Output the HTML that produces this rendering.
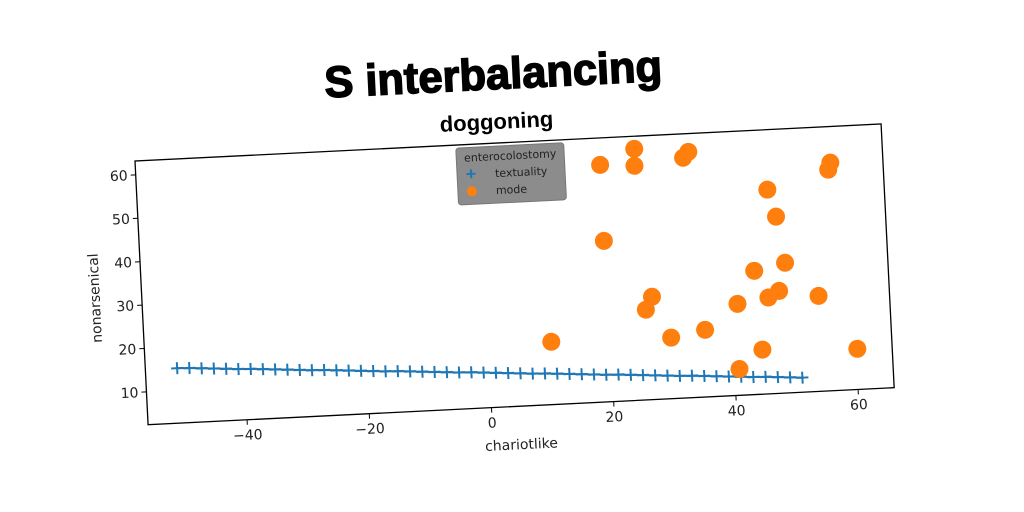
<!DOCTYPE html>
<html><head><meta charset="utf-8"><style>
html,body{margin:0;padding:0;background:#fff;width:1024px;height:512px;overflow:hidden}
svg{display:block}
text{font-family:"DejaVu Sans","Liberation Sans",sans-serif;fill:#222}
</style></head><body>
<svg id="chart" width="1024" height="512" xmlns="http://www.w3.org/2000/svg">
<g id="root" transform="translate(135,161) rotate(-2.84)">
  <text x="362" y="-54" text-anchor="middle" textLength="338" lengthAdjust="spacingAndGlyphs" style="font-family:'Liberation Sans',sans-serif;font-weight:bold;font-size:44px;fill:#000;stroke:#000;stroke-width:1.5">S interbalancing</text>
  <text x="363" y="-14" text-anchor="middle" style="font-family:'Liberation Sans',sans-serif;font-weight:bold;font-size:22px;fill:#000">doggoning</text>
  <rect x="0" y="0" width="747" height="264" fill="none" stroke="#000" stroke-width="1.3"/>
  <g id="xticks"></g><g id="yticks"></g>
  <g id="series"></g>
  <text x="372" y="307" text-anchor="middle" font-size="14">chariotlike</text>
  <text transform="translate(-42,135) rotate(-90)" text-anchor="middle" font-size="14">nonarsenical</text>
  <g>
    <rect x="321" y="3" width="108" height="57" rx="3" fill="#8c8c8c" stroke="#777"/>
    <text x="375" y="17" text-anchor="middle" font-size="11">enterocolostomy</text>
    <path d="M335 25 v9 M330.5 29.5 h9" stroke="#1f77b4" stroke-width="2"/>
    <text x="359" y="34" font-size="11">textuality</text>
    <circle cx="335" cy="47" r="5" fill="#ff7f0e"/>
    <text x="359" y="51" font-size="11">mode</text>
  </g>
</g>
</svg>
<script>
const xTicks=[-40,-20,0,20,40,60];
const yTicks=[10,20,30,40,50,60];
const blueX=[-51,-49,-47,-45,-43,-41,-39,-37,-35,-33,-31,-29,-27,-25,-23,-21,-19,-17,-15,-13,-11,-9,-7,-5,-3,-1,1,3,5,7,9,11,13,15,17,19,21,23,25,27,29,31,33,35,37,39,41,43,45,47,49,51];
const blueY=[15.1,15.0,14.8,14.6,14.4,14.2,14.1,13.9,13.7,13.5,13.3,13.1,13.0,12.8,12.6,12.4,12.2,12.0,11.9,11.7,11.5,11.3,11.1,10.9,10.8,10.6,10.4,10.2,10.0,9.8,9.7,9.5,9.3,9.1,8.9,8.7,8.6,8.4,8.2,8.0,7.8,7.6,7.5,7.3,7.1,6.9,6.7,6.5,6.4,6.2,6.0,5.8];
const orangeX=[19.7,25.4,25.3,34.2,33.3,57.3,56.9,46.8,48.0,19.7,44.0,49.1,27.1,26.0,47.9,46.1,41.0,54.3,35.5,29.9,10.3,44.7,60.2,40.8];
const orangeY=[57.0,60.3,56.4,59.0,57.7,54.9,53.3,49.4,43.1,39.5,30.9,32.4,26.1,23.2,26.0,24.6,23.5,24.4,17.9,16.5,16.9,12.7,11.8,8.5];
const W=747,H=264,xmin=-56.2,xmax=65.9,ymin=2.45,ymax=63.2;
const sx=v=>(v-xmin)/(xmax-xmin)*W;
const sy=v=>H-(v-ymin)/(ymax-ymin)*H;
const NS="http://www.w3.org/2000/svg";
function mk(tag,attrs,parent){const e=document.createElementNS(NS,tag);for(const k in attrs)e.setAttribute(k,attrs[k]);parent.appendChild(e);return e;}
const xg=document.getElementById('xticks'),yg=document.getElementById('yticks'),sg=document.getElementById('series');
xTicks.forEach(t=>{
  const l=mk('line',{x1:sx(t),x2:sx(t),y1:H,y2:H+5,stroke:'#000'},xg);
  
  
  const tx=mk('text',{x:sx(t),y:H+20,'text-anchor':'middle','font-size':14},xg);
  tx.textContent=(t<0?'\u2212'+(-t):''+t);
  
  
});
yTicks.forEach(t=>{
  const l=mk('line',{x1:-5,x2:0,y1:sy(t),y2:sy(t),stroke:'#000'},yg);
  
  
  const tx=mk('text',{x:-8,y:sy(t)+5,'text-anchor':'end','font-size':14},yg);
  tx.textContent=''+t;
  
  
});
const pts=blueX.map((x,i)=>sx(x)+','+sy(blueY[i])).join(' ');
const pl=mk('polyline',{points:pts,fill:'none',stroke:'#1f77b4','stroke-width':2},sg);


blueX.forEach((x,i)=>{
  const X=sx(x),Y=sy(blueY[i]);
  const p=mk('path',{d:`M${X-6} ${Y} h12 M${X} ${Y-6} v12`,stroke:'#1f77b4','stroke-width':2},sg);
  
  
});
orangeX.forEach((x,i)=>{
  const c=mk('circle',{cx:sx(x),cy:sy(orangeY[i]),r:9,fill:'#ff7f0e'},sg);
  
  
});
</script>
</body></html>
